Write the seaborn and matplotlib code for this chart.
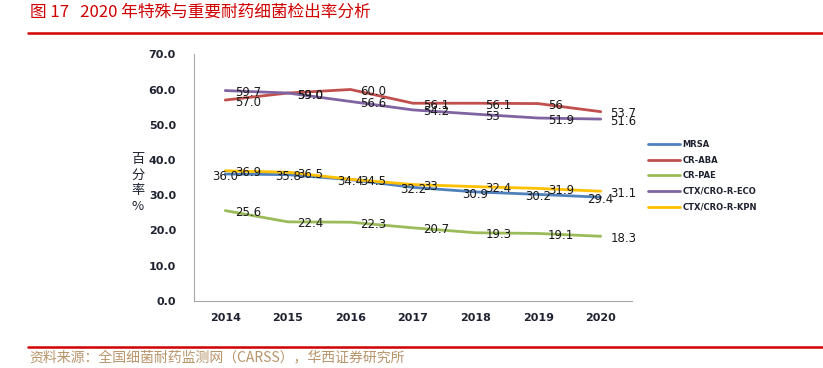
import matplotlib
matplotlib.use('Agg')
import matplotlib.pyplot as plt
from matplotlib.lines import Line2D
import pandas as pd
import seaborn as sns

# data
years = ['2014', '2015', '2016', '2017', '2018', '2019', '2020']
series = ['MRSA', 'CR-ABA', 'CR-PAE', 'CTX/CRO-R-ECO', 'CTX/CRO-R-KPN']
mrsa = [36.0, 35.8, 34.4, 32.2, 30.9, 30.2, 29.4]
cr_aba = [57.0, 59.0, 60.0, 56.1, 56.1, 56.0, 53.7]
cr_pae = [25.6, 22.4, 22.3, 20.7, 19.3, 19.1, 18.3]
ctx_eco = [59.7, 59.0, 56.6, 54.2, 53.0, 51.9, 51.6]
ctx_kpn = [36.9, 36.5, 34.5, 33.0, 32.4, 31.9, 31.1]
# data labels as printed in the source
mrsa_txt = ['36.0', '35.8', '34.4', '32.2', '30.9', '30.2', '29.4']
cr_aba_txt = ['57.0', '59.0', '60.0', '56.1', '56.1', '56', '53.7']
cr_pae_txt = ['25.6', '22.4', '22.3', '20.7', '19.3', '19.1', '18.3']
ctx_eco_txt = ['59.7', '59.0', '56.6', '54.2', '53', '51.9', '51.6']
ctx_kpn_txt = ['36.9', '36.5', '34.5', '33', '32.4', '31.9', '31.1']

values = [mrsa, cr_aba, cr_pae, ctx_eco, ctx_kpn]
texts = [mrsa_txt, cr_aba_txt, cr_pae_txt, ctx_eco_txt, ctx_kpn_txt]
colors = ['#4F81BD', '#C0504D', '#9BBB59', '#8064A2', '#FFC000']
label_pos = ['center', 'right', 'right', 'right', 'right']

sns.set_style('white')
plt.rcParams['font.family'] = ['DejaVu Sans', 'Noto Sans CJK SC']

W, H = 823, 368
fig = plt.figure(figsize=(W / 100, H / 100), dpi=100)
ax = fig.add_axes([194 / W, 1 - 300.7 / H, (632 - 194) / W, (300.7 - 54.3) / H])

for name, vals, col in zip(series, values, colors):
    df = pd.DataFrame({'year': years, 'rate': vals})
    sns.lineplot(data=df, x='year', y='rate', color=col, lw=2.0,
                 label=name, sort=False, ax=ax)

for vals, txt, pos in zip(values, texts, label_pos):
    for i, (v, t) in enumerate(zip(vals, txt)):
        if pos == 'center':
            ax.annotate(t, (i, v), xytext=(0, -1.5), textcoords='offset points',
                        ha='center', va='center', fontsize=8.5, color='#1a1a1a')
        else:
            ax.annotate(t, (i, v), xytext=(7, -1.5), textcoords='offset points',
                        ha='left', va='center', fontsize=8.5, color='#1a1a1a')

ax.set_xlim(-0.5, len(years) - 0.5)
ax.set_ylim(0, 70)
ax.set_yticks(range(0, 71, 10))
ax.set_yticklabels([f'{v:.1f}' for v in range(0, 71, 10)])
ax.set_xticks([i - 0.5 for i in range(len(years) + 1)], minor=True)
ax.tick_params(axis='x', which='major', length=0, pad=9)
ax.tick_params(axis='x', which='minor', length=3, color='#A6A6A6', width=0.8)
ax.tick_params(axis='y', length=3, color='#A6A6A6', width=0.8, pad=10)
for lab in ax.get_xticklabels() + ax.get_yticklabels():
    lab.set_fontsize(8)
    lab.set_fontweight('bold')
    lab.set_color('#1f2230')
ax.set_xlabel('')
ax.set_ylabel('')
for s in ['top', 'right']:
    ax.spines[s].set_visible(False)
for s in ['left', 'bottom']:
    ax.spines[s].set_color('#A6A6A6')
    ax.spines[s].set_linewidth(0.8)

handles, labels = ax.get_legend_handles_labels()
leg = ax.legend(handles, labels, loc='upper left',
                bbox_to_anchor=(648 / W, 1 - 140 / H), bbox_transform=fig.transFigure,
                frameon=False, borderpad=0, borderaxespad=0,
                prop={'size': 6, 'weight': 'bold'}, handlelength=3.8,
                handletextpad=0.35, labelspacing=0.8)
for t in leg.get_texts():
    t.set_color('#1f2230')

# y label stacked vertically
fig.text(138 / W, 1 - 183 / H, '百\n分\n率\n%', ha='center', va='center',
         fontsize=9.5, color='#1f2230', linespacing=1.25,
         family=['Noto Sans CJK SC', 'DejaVu Sans'])

# title, rules and source
red = '#D00000'
fig.text(30 / W, 1 - 12.5 / H, '图 17   2020 年特殊与重要耐药细菌检出率分析',
         ha='left', va='center', fontsize=12, color=red,
         family=['Noto Sans CJK SC', 'DejaVu Sans'])
fig.add_artist(Line2D([28 / W, 1], [1 - 33 / H] * 2, color=red, lw=1.8,
                      transform=fig.transFigure))
fig.add_artist(Line2D([28 / W, 1], [1 - 346.5 / H] * 2, color=red, lw=1.8,
                      transform=fig.transFigure))
fig.text(29 / W, 1 - 357 / H, '资料来源：全国细菌耐药监测网（CARSS），华西证券研究所',
         ha='left', va='center', fontsize=10, color='#B8946A',
         family=['Noto Sans CJK SC', 'DejaVu Sans'])

fig.savefig('out.png', dpi=100)
